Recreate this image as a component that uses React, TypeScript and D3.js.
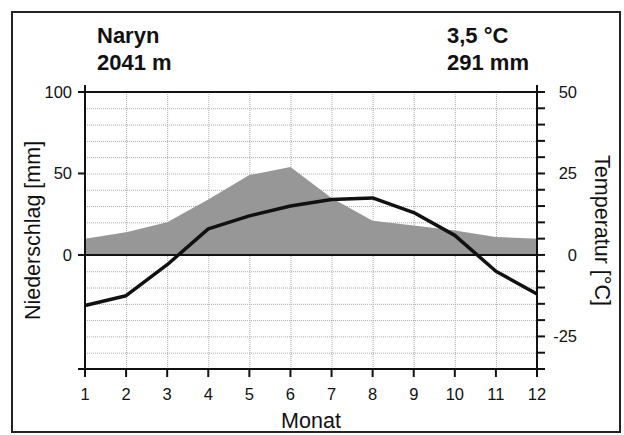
import { useEffect, useRef } from "react";
import * as d3 from "d3";

const months = [1, 2, 3, 4, 5, 6, 7, 8, 9, 10, 11, 12];
const precip = [10, 14, 20, 34, 49, 54, 35, 21, 18, 15, 11, 10];
const temp = [-15.5, -12.5, -3, 8, 12, 15, 17, 17.5, 13, 6, -5, -12];
const precipTicks = [100, 50, 0];
const tempTicks = [50, 25, 0, -25];
const station = "Naryn";
const elevation = "2041 m";
const meanTemp = "3,5 °C";
const totalPrecip = "291 mm";

const App = () => {
  const svgRef = useRef<SVGSVGElement>(null);

  useEffect(() => {
    const svg = d3.select(svgRef.current);
    svg.selectAll("*").remove();
    const font = "Liberation Sans, Arial, sans-serif";

    const left = 85, right = 537, top = 92, bottom = 369;
    const x = d3.scaleLinear().domain([1, 12]).range([left, right]);
    const yP = d3.scaleLinear().domain([-70, 100]).range([bottom, top]);
    const yT = d3.scaleLinear().domain([-35, 50]).range([bottom, top]);

    svg.append("rect").attr("x", 12).attr("y", 12).attr("width", 608).attr("height", 420)
      .attr("fill", "white").attr("stroke", "#222").attr("stroke-width", 2);

    // grid
    const grid = svg.append("g").attr("stroke", "#aaa").attr("stroke-width", 1).attr("stroke-dasharray", "1,1");
    grid.selectAll(".h").data(d3.range(-60, 100, 10).filter((d) => d !== 0)).enter().append("line")
      .attr("x1", left).attr("x2", right).attr("y1", (d) => yP(d) + 0.5).attr("y2", (d) => yP(d) + 0.5);
    grid.selectAll(".v").data(months.slice(1, -1)).enter().append("line")
      .attr("x1", (d) => x(d) + 0.5).attr("x2", (d) => x(d) + 0.5).attr("y1", top).attr("y2", bottom);

    // precipitation area
    const area = d3.area<number>().x((d, i) => x(months[i])).y0(yP(0)).y1((d) => yP(d));
    svg.append("path").datum(precip).attr("d", area).attr("fill", "#979797");

    // frame lines
    const ax = svg.append("g").attr("stroke", "#111").attr("stroke-width", 2);
    ax.append("line").attr("x1", left - 7).attr("x2", right + 7).attr("y1", top).attr("y2", top);
    ax.append("line").attr("x1", left - 7).attr("x2", right).attr("y1", yP(0)).attr("y2", yP(0));
    ax.append("line").attr("x1", left - 7).attr("x2", right).attr("y1", bottom).attr("y2", bottom);
    ax.append("line").attr("x1", left).attr("x2", left).attr("y1", top - 7).attr("y2", bottom + 8);
    ax.append("line").attr("x1", right).attr("x2", right).attr("y1", top - 7).attr("y2", bottom + 8);
    ax.selectAll(".lt").data(precipTicks).enter().append("line")
      .attr("x1", left - 7).attr("x2", left).attr("y1", (d) => yP(d)).attr("y2", (d) => yP(d));
    ax.selectAll(".rt").data(d3.range(-35, 51, 5)).enter().append("line")
      .attr("x1", right).attr("x2", right + 8).attr("y1", (d) => yT(d)).attr("y2", (d) => yT(d));
    ax.selectAll(".bt").data(months).enter().append("line")
      .attr("x1", (d) => x(d)).attr("x2", (d) => x(d)).attr("y1", bottom).attr("y2", bottom + 8);

    // temperature line
    const line = d3.line<number>().x((d, i) => x(months[i])).y((d) => yT(d));
    svg.append("path").datum(temp).attr("d", line).attr("fill", "none")
      .attr("stroke", "#111").attr("stroke-width", 3.5).attr("stroke-linejoin", "round");

    // tick labels
    const t = svg.append("g").attr("font-family", font).attr("font-size", 16.5).attr("fill", "#111");
    t.selectAll(".pl").data(precipTicks).enter().append("text")
      .attr("x", left - 13).attr("y", (d) => yP(d)).attr("dy", "0.36em").attr("text-anchor", "end").text((d) => d);
    t.selectAll(".tl").data(tempTicks).enter().append("text")
      .attr("x", 577).attr("y", (d) => yT(d)).attr("dy", "0.36em").attr("text-anchor", "end").text((d) => d);
    t.selectAll(".ml").data(months).enter().append("text")
      .attr("x", (d) => x(d)).attr("y", bottom + 31).attr("text-anchor", "middle").text((d) => d);

    // titles
    const ti = svg.append("g").attr("font-family", font).attr("font-size", 21.5).attr("fill", "#111");
    ti.append("text").attr("x", 311).attr("y", 428).attr("text-anchor", "middle").text("Monat");
    ti.append("text").attr("transform", `translate(40, ${yP(15)}) rotate(-90)`).attr("text-anchor", "middle").text("Niederschlag [mm]");
    ti.append("text").attr("transform", `translate(595, ${yP(15)}) rotate(90)`).attr("text-anchor", "middle").text("Temperatur [°C]");

    const hd = svg.append("g").attr("font-family", font).attr("font-size", 22).attr("font-weight", "bold").attr("fill", "#111");
    hd.append("text").attr("x", 97).attr("y", 43).text(station);
    hd.append("text").attr("x", 97).attr("y", 70).text(elevation);
    hd.append("text").attr("x", 447).attr("y", 43).text(meanTemp);
    hd.append("text").attr("x", 447).attr("y", 70).text(totalPrecip);
  }, []);

  return (
    <svg ref={svgRef} width={624} height={435} style={{ position: "absolute", left: 0, top: 0 }}></svg>
  );
};

export default App;
